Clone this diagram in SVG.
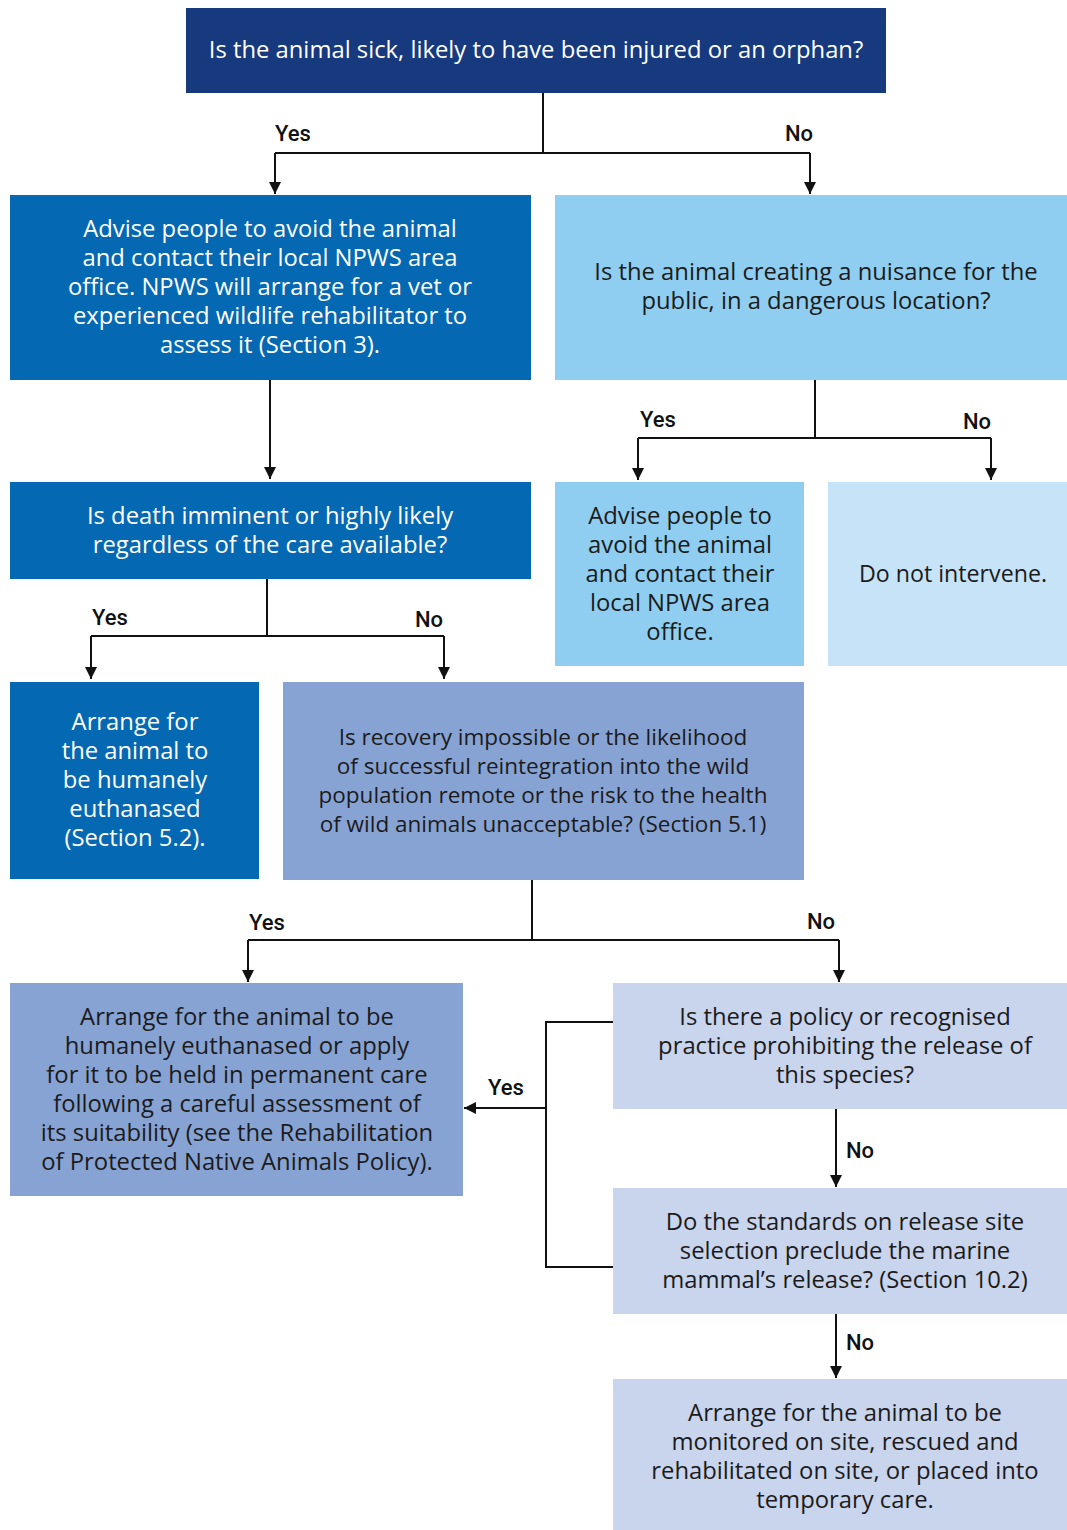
<svg xmlns="http://www.w3.org/2000/svg" width="1067" height="1530" viewBox="0 0 1067 1530">
<style>
.t{font-family:"Open Sans","Liberation Sans",Arial,sans-serif;font-size:23.8px;text-anchor:middle}
.w{fill:#ffffff}
.d{fill:#1b1b1b}
.lbl{font-family:Roboto,"Liberation Sans",sans-serif;font-size:22px;font-weight:500;fill:#111;text-anchor:middle}
.c{fill:none;stroke:#111;stroke-width:2}
</style>
<defs>
<marker id="ah" viewBox="0 0 10 10" refX="10" refY="5" markerWidth="12" markerHeight="12" markerUnits="userSpaceOnUse" orient="auto">
<path d="M0,0 L10,5 L0,10 z" fill="#111"/>
</marker>
</defs>
<rect width="1067" height="1530" fill="#ffffff"/>

<g id="connectors">
<path class="c" d="M543,93 V153"/>
<path class="c" d="M275,153 H810"/>
<path class="c" d="M275,153 V194" marker-end="url(#ah)"/>
<path class="c" d="M810,153 V194" marker-end="url(#ah)"/>
<path class="c" d="M270,380 V479" marker-end="url(#ah)"/>
<path class="c" d="M815,380 V438"/>
<path class="c" d="M638,438 H991"/>
<path class="c" d="M638,438 V480" marker-end="url(#ah)"/>
<path class="c" d="M991,438 V480" marker-end="url(#ah)"/>
<path class="c" d="M267,579 V636"/>
<path class="c" d="M91,636 H444"/>
<path class="c" d="M91,636 V679" marker-end="url(#ah)"/>
<path class="c" d="M444,636 V679" marker-end="url(#ah)"/>
<path class="c" d="M532,880 V940"/>
<path class="c" d="M248,940 H839"/>
<path class="c" d="M248,940 V982" marker-end="url(#ah)"/>
<path class="c" d="M839,940 V982" marker-end="url(#ah)"/>
<path class="c" d="M613,1022 H546 V1267 H613"/>
<path class="c" d="M546,1108 H464" marker-end="url(#ah)"/>
<path class="c" d="M836,1109 V1187" marker-end="url(#ah)"/>
<path class="c" d="M836,1314 V1378" marker-end="url(#ah)"/>
<text class="lbl" x="293" y="141">Yes</text>
<text class="lbl" x="799" y="141">No</text>
<text class="lbl" x="658" y="427">Yes</text>
<text class="lbl" x="977" y="429">No</text>
<text class="lbl" x="110" y="625">Yes</text>
<text class="lbl" x="429" y="627">No</text>
<text class="lbl" x="267" y="930">Yes</text>
<text class="lbl" x="821" y="929">No</text>
<text class="lbl" x="506" y="1095">Yes</text>
<text class="lbl" x="860" y="1158">No</text>
<text class="lbl" x="860" y="1350">No</text>
</g>

<g id="n1">
<rect x="186" y="8" width="700" height="85" fill="#17397e"/>
<text class="t w" x="536" y="58">Is the animal sick, likely to have been injured or an orphan?</text>
</g>
<g id="n2">
<rect x="10" y="195" width="521" height="185" fill="#0568b2"/>
<text class="t w" x="270" y="237">Advise people to avoid the animal</text>
<text class="t w" x="270" y="266">and contact their local NPWS area</text>
<text class="t w" x="270" y="295">office. NPWS will arrange for a vet or</text>
<text class="t w" x="270" y="324">experienced wildlife rehabilitator to</text>
<text class="t w" x="270" y="353">assess it (Section 3).</text>
</g>
<g id="n3">
<rect x="555" y="195" width="512" height="185" fill="#8fcef0"/>
<text class="t d" x="816" y="280">Is the animal creating a nuisance for the</text>
<text class="t d" x="816" y="309">public, in a dangerous location?</text>
</g>
<g id="n4">
<rect x="10" y="482" width="521" height="97" fill="#0568b2"/>
<text class="t w" x="270" y="524">Is death imminent or highly likely</text>
<text class="t w" x="270" y="553">regardless of the care available?</text>
</g>
<g id="n5">
<rect x="555" y="482" width="249" height="184" fill="#8fcef0"/>
<text class="t d" x="680" y="524">Advise people to</text>
<text class="t d" x="680" y="553">avoid the animal</text>
<text class="t d" x="680" y="582">and contact their</text>
<text class="t d" x="680" y="611">local NPWS area</text>
<text class="t d" x="680" y="640">office.</text>
</g>
<g id="n6">
<rect x="828" y="482" width="239" height="184" fill="#c6e3f7"/>
<text class="t d" x="953" y="582" style="font-size:23.2px">Do not intervene.</text>
</g>
<g id="n7">
<rect x="10" y="682" width="249" height="197" fill="#0568b2"/>
<text class="t w" x="135" y="730">Arrange for</text>
<text class="t w" x="135" y="759">the animal to</text>
<text class="t w" x="135" y="788">be humanely</text>
<text class="t w" x="135" y="817">euthanased</text>
<text class="t w" x="135" y="846">(Section 5.2).</text>
</g>
<g id="n8" style="font-size:22.5px">
<rect x="283" y="682" width="521" height="198" fill="#87a3d4"/>
<text class="t d" x="543" y="745" style="font-size:22.5px">Is recovery impossible or the likelihood</text>
<text class="t d" x="543" y="774" style="font-size:22.5px">of successful reintegration into the wild</text>
<text class="t d" x="543" y="803" style="font-size:22.5px">population remote or the risk to the health</text>
<text class="t d" x="543" y="832" style="font-size:22.5px">of wild animals unacceptable? (Section 5.1)</text>
</g>
<g id="n9">
<rect x="10" y="983" width="453" height="213" fill="#87a3d4"/>
<text class="t d" x="237" y="1025">Arrange for the animal to be</text>
<text class="t d" x="237" y="1054">humanely euthanased or apply</text>
<text class="t d" x="237" y="1083">for it to be held in permanent care</text>
<text class="t d" x="237" y="1112">following a careful assessment of</text>
<text class="t d" x="237" y="1141">its suitability (see the Rehabilitation</text>
<text class="t d" x="237" y="1170">of Protected Native Animals Policy).</text>
</g>
<g id="n10">
<rect x="613" y="983" width="454" height="126" fill="#c9d4ed"/>
<text class="t d" x="845" y="1025">Is there a policy or recognised</text>
<text class="t d" x="845" y="1054">practice prohibiting the release of</text>
<text class="t d" x="845" y="1083">this species?</text>
</g>
<g id="n11">
<rect x="613" y="1188" width="454" height="126" fill="#c9d4ed"/>
<text class="t d" x="845" y="1230">Do the standards on release site</text>
<text class="t d" x="845" y="1259">selection preclude the marine</text>
<text class="t d" x="845" y="1288">mammal’s release? (Section 10.2)</text>
</g>
<g id="n12">
<rect x="613" y="1379" width="454" height="151" fill="#c9d4ed"/>
<text class="t d" x="845" y="1421">Arrange for the animal to be</text>
<text class="t d" x="845" y="1450">monitored on site, rescued and</text>
<text class="t d" x="845" y="1479">rehabilitated on site, or placed into</text>
<text class="t d" x="845" y="1508">temporary care.</text>
</g>
</svg>
